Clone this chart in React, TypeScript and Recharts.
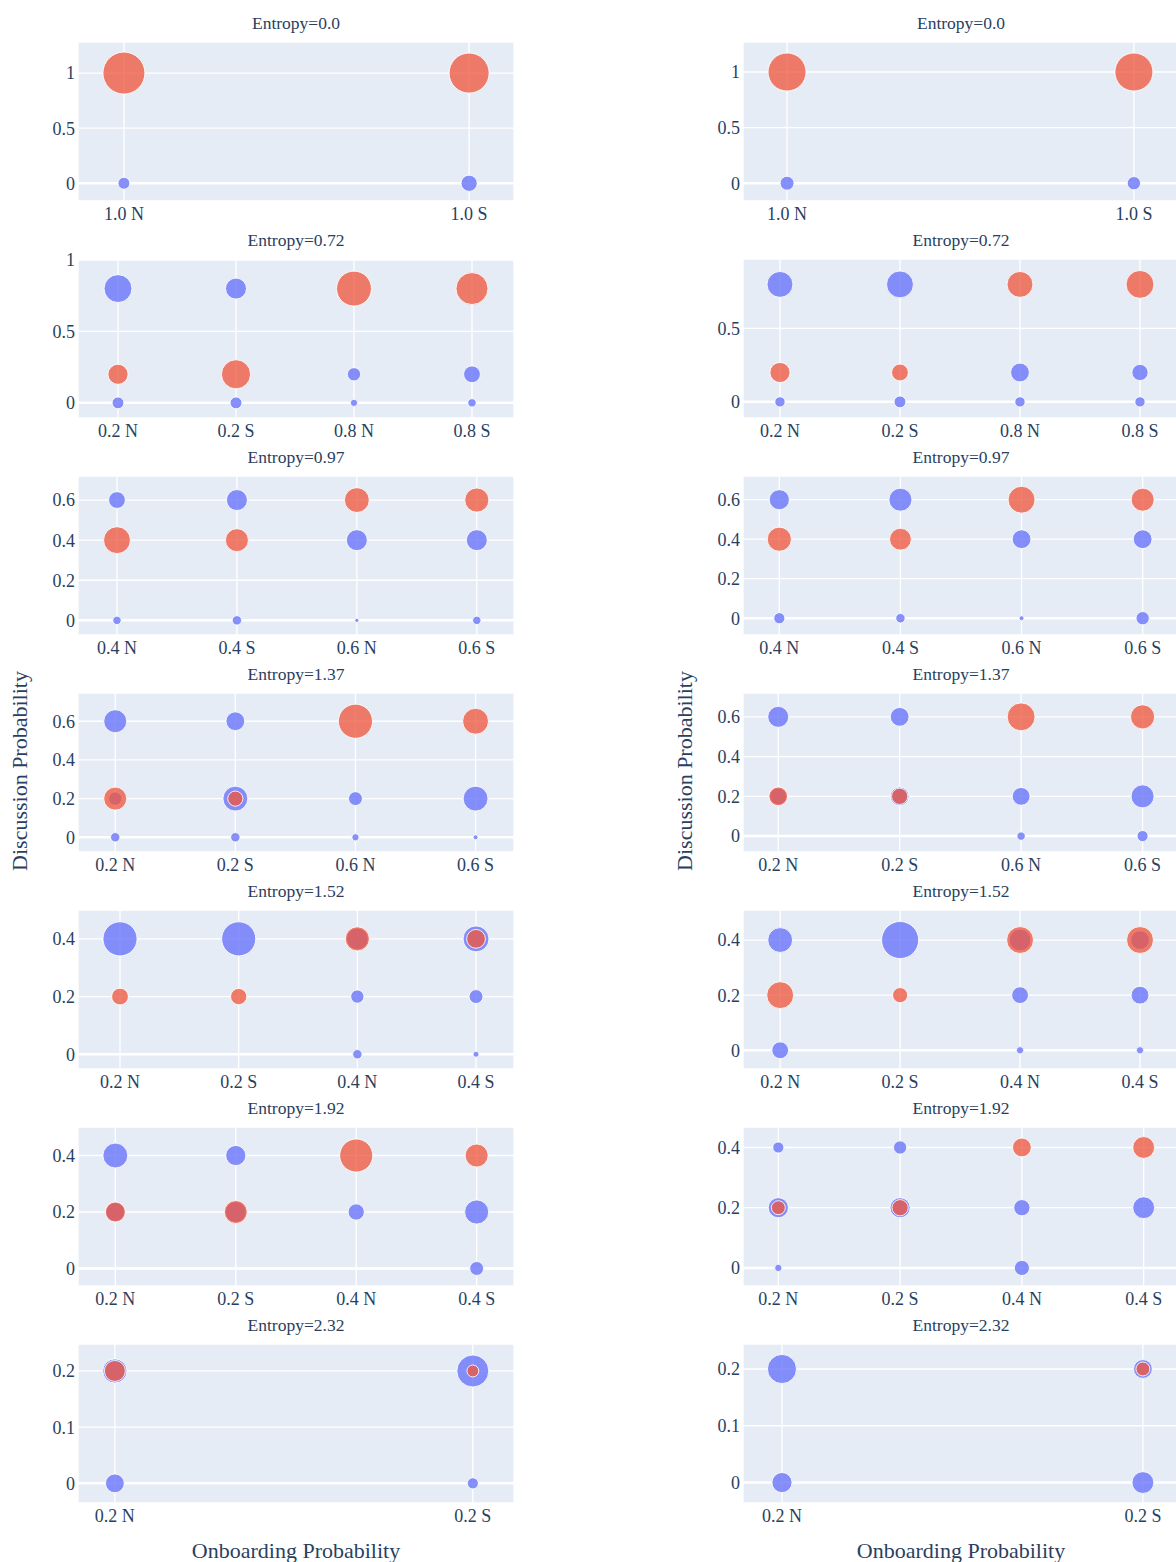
import {
  ScatterChart,
  Scatter,
  XAxis,
  YAxis,
  ZAxis,
  CartesianGrid,
  ReferenceLine,
} from "recharts";

// point = [onboarding category, discussion probability, bubble size]
type Pt = [string, number, number];

const ENTROPIES = ["0.0", "0.72", "0.97", "1.37", "1.52", "1.92", "2.32"];

const CATS_R1 = ["1.0 N", "1.0 S"];
const CATS_R2 = ["0.2 N", "0.2 S", "0.8 N", "0.8 S"];
const CATS_R3 = ["0.4 N", "0.4 S", "0.6 N", "0.6 S"];
const CATS_R4 = ["0.2 N", "0.2 S", "0.6 N", "0.6 S"];
const CATS_R5 = ["0.2 N", "0.2 S", "0.4 N", "0.4 S"];
const CATS_R6 = ["0.2 N", "0.2 S", "0.4 N", "0.4 S"];
const CATS_R7 = ["0.2 N", "0.2 S"];

const TICKS_1 = [0, 0.5, 1];
const TICKS_05 = [0, 0.5];
const TICKS_06 = [0, 0.2, 0.4, 0.6];
const TICKS_04 = [0, 0.2, 0.4];
const TICKS_02 = [0, 0.1, 0.2];

// left column
const BLUE_L1: Pt[] = [["1.0 N", 0, 8], ["1.0 S", 0, 15]];
const RED_L1: Pt[] = [["1.0 N", 1, 100], ["1.0 S", 1, 91]];
const BLUE_L2: Pt[] = [
  ["0.2 N", 0.8, 44], ["0.2 N", 0, 8], ["0.2 S", 0.8, 25], ["0.2 S", 0, 8],
  ["0.8 N", 0.2, 10], ["0.8 N", 0, 3], ["0.8 S", 0.2, 16], ["0.8 S", 0, 4],
];
const RED_L2: Pt[] = [["0.2 N", 0.2, 23], ["0.2 S", 0.2, 48], ["0.8 N", 0.8, 69], ["0.8 S", 0.8, 58]];
const BLUE_L3: Pt[] = [
  ["0.4 N", 0.6, 16], ["0.4 N", 0, 4], ["0.4 S", 0.6, 25], ["0.4 S", 0, 5],
  ["0.6 N", 0.4, 25], ["0.6 N", 0, 1], ["0.6 S", 0.4, 25], ["0.6 S", 0, 4],
];
const RED_L3: Pt[] = [["0.4 N", 0.4, 41], ["0.4 S", 0.4, 30], ["0.6 N", 0.6, 35], ["0.6 S", 0.6, 33]];
const BLUE_L4: Pt[] = [
  ["0.2 N", 0.6, 30], ["0.2 N", 0.2, 10], ["0.2 N", 0, 5],
  ["0.2 S", 0.6, 20], ["0.2 S", 0.2, 35], ["0.2 S", 0, 5],
  ["0.6 N", 0.2, 11], ["0.6 N", 0, 3], ["0.6 S", 0.2, 35], ["0.6 S", 0, 1.4],
];
const RED_L4: Pt[] = [["0.2 N", 0.2, 30], ["0.2 S", 0.2, 13], ["0.6 N", 0.6, 66], ["0.6 S", 0.6, 38]];
const BLUE_L5: Pt[] = [
  ["0.2 N", 0.4, 66], ["0.2 S", 0.4, 66],
  ["0.4 N", 0.4, 27], ["0.4 N", 0.2, 10], ["0.4 N", 0, 5],
  ["0.4 S", 0.4, 38], ["0.4 S", 0.2, 11], ["0.4 S", 0, 2],
];
const RED_L5: Pt[] = [["0.2 N", 0.2, 16], ["0.2 S", 0.2, 15], ["0.4 N", 0.4, 33], ["0.4 S", 0.4, 20]];
const BLUE_L6: Pt[] = [
  ["0.2 N", 0.4, 35], ["0.2 N", 0.2, 20], ["0.2 S", 0.4, 23], ["0.2 S", 0.2, 25],
  ["0.4 N", 0.2, 15], ["0.4 S", 0.2, 33], ["0.4 S", 0, 11],
];
const RED_L6: Pt[] = [["0.2 N", 0.2, 23], ["0.2 S", 0.2, 30], ["0.4 N", 0.4, 62], ["0.4 S", 0.4, 30]];
const BLUE_L7: Pt[] = [["0.2 N", 0.2, 33], ["0.2 N", 0, 20], ["0.2 S", 0.2, 58], ["0.2 S", 0, 7]];
const RED_L7: Pt[] = [["0.2 N", 0.2, 25], ["0.2 S", 0.2, 8]];

// right column
const BLUE_R1: Pt[] = [["1.0 N", 0, 11], ["1.0 S", 0, 10]];
const RED_R1: Pt[] = [["1.0 N", 1, 82], ["1.0 S", 1, 82]];
const BLUE_R2: Pt[] = [
  ["0.2 N", 0.8, 38], ["0.2 N", 0, 6], ["0.2 S", 0.8, 41], ["0.2 S", 0, 8],
  ["0.8 N", 0.2, 20], ["0.8 N", 0, 6], ["0.8 S", 0.2, 15], ["0.8 S", 0, 6],
];
const RED_R2: Pt[] = [["0.2 N", 0.2, 23], ["0.2 S", 0.2, 16], ["0.8 N", 0.8, 38], ["0.8 S", 0.8, 44]];
const BLUE_R3: Pt[] = [
  ["0.4 N", 0.6, 23], ["0.4 N", 0, 7], ["0.4 S", 0.6, 30], ["0.4 S", 0, 5],
  ["0.6 N", 0.4, 20], ["0.6 N", 0, 1.4], ["0.6 S", 0.4, 20], ["0.6 S", 0, 10],
];
const RED_R3: Pt[] = [["0.4 N", 0.4, 33], ["0.4 S", 0.4, 27], ["0.6 N", 0.6, 41], ["0.6 S", 0.6, 30]];
const BLUE_R4: Pt[] = [
  ["0.2 N", 0.6, 25], ["0.2 N", 0.2, 16], ["0.2 S", 0.6, 20], ["0.2 S", 0.2, 20],
  ["0.6 N", 0.2, 18], ["0.6 N", 0, 4], ["0.6 S", 0.2, 30], ["0.6 S", 0, 7],
];
const RED_R4: Pt[] = [["0.2 N", 0.2, 20], ["0.2 S", 0.2, 15], ["0.6 N", 0.6, 44], ["0.6 S", 0.6, 33]];
const BLUE_R5: Pt[] = [
  ["0.2 N", 0.4, 35], ["0.2 N", 0, 16], ["0.2 S", 0.4, 78],
  ["0.4 N", 0.4, 27], ["0.4 N", 0.2, 16], ["0.4 N", 0, 3],
  ["0.4 S", 0.4, 20], ["0.4 S", 0.2, 18], ["0.4 S", 0, 3],
];
const RED_R5: Pt[] = [["0.2 N", 0.2, 41], ["0.2 S", 0.2, 13], ["0.4 N", 0.4, 41], ["0.4 S", 0.4, 41]];
const BLUE_R6: Pt[] = [
  ["0.2 N", 0.4, 7], ["0.2 N", 0.2, 23], ["0.2 N", 0, 3],
  ["0.2 S", 0.4, 10], ["0.2 S", 0.2, 23],
  ["0.4 N", 0.2, 15], ["0.4 N", 0, 13], ["0.4 S", 0.2, 27],
];
const RED_R6: Pt[] = [["0.2 N", 0.2, 11], ["0.2 S", 0.2, 15], ["0.4 N", 0.4, 20], ["0.4 S", 0.4, 27]];
const BLUE_R7: Pt[] = [["0.2 N", 0.2, 48], ["0.2 N", 0, 23], ["0.2 S", 0.2, 20], ["0.2 S", 0, 27]];
const RED_R7: Pt[] = [["0.2 S", 0.2, 11]];

const BLUE = "#636efa";
const RED = "#EF553B";
const INK = "#2a3f5f";
const PLOT_BG = "#E5ECF6";

const PW = 436; // plot width
const PH = 159; // plot height
const YW = 60;
const XH = 30;
const TOP_PAD = 12;
const ROW_TOP = 42;
const ROW_STEP = 217;
const LEFT_X = 78;
const RIGHT_X = 743;
const AREA_MAX = Math.PI * 21 * 21;

const left = [
  { cats: CATS_R1, blue: BLUE_L1, red: RED_L1, yTicks: TICKS_1, xDom: [-0.133, 1.13], yDom: [-0.161, 1.282] },
  { cats: CATS_R2, blue: BLUE_L2, red: RED_L2, yTicks: TICKS_1, xDom: [-0.339, 3.356], yDom: [-0.106, 1.007] },
  { cats: CATS_R3, blue: BLUE_L3, red: RED_L3, yTicks: TICKS_06, xDom: [-0.325, 3.31], yDom: [-0.073, 0.72] },
  { cats: CATS_R4, blue: BLUE_L4, red: RED_L4, yTicks: TICKS_06, xDom: [-0.31, 3.32], yDom: [-0.076, 0.746] },
  { cats: CATS_R5, blue: BLUE_L5, red: RED_L5, yTicks: TICKS_04, xDom: [-0.354, 3.32], yDom: [-0.051, 0.5] },
  { cats: CATS_R6, blue: BLUE_L6, red: RED_L6, yTicks: TICKS_04, xDom: [-0.31, 3.31], yDom: [-0.062, 0.501] },
  { cats: CATS_R7, blue: BLUE_L7, red: RED_L7, yTicks: TICKS_02, xDom: [-0.103, 1.115], yDom: [-0.035, 0.248] },
];

const right = [
  { cats: CATS_R1, blue: BLUE_R1, red: RED_R1, yTicks: TICKS_1, xDom: [-0.127, 1.13], yDom: [-0.16, 1.27] },
  { cats: CATS_R2, blue: BLUE_R2, red: RED_R2, yTicks: TICKS_05, xDom: [-0.308, 3.325], yDom: [-0.11, 0.973] },
  { cats: CATS_R3, blue: BLUE_R3, red: RED_R3, yTicks: TICKS_06, xDom: [-0.3, 3.3], yDom: [-0.085, 0.72] },
  { cats: CATS_R4, blue: BLUE_R4, red: RED_R4, yTicks: TICKS_06, xDom: [-0.29, 3.3], yDom: [-0.08, 0.72] },
  { cats: CATS_R5, blue: BLUE_R5, red: RED_R5, yTicks: TICKS_04, xDom: [-0.31, 3.325], yDom: [-0.068, 0.509] },
  { cats: CATS_R6, blue: BLUE_R6, red: RED_R6, yTicks: TICKS_04, xDom: [-0.29, 3.29], yDom: [-0.06, 0.468] },
  { cats: CATS_R7, blue: BLUE_R7, red: RED_R7, yTicks: TICKS_02, xDom: [-0.108, 1.1], yDom: [-0.036, 0.244] },
];

function Panel({ cfg, x, top, title }: any) {
  const { cats, blue, red, yTicks, xDom, yDom } = cfg;
  const toPts = (arr: Pt[]) => arr.map(([c, y, s]) => ({ x: cats.indexOf(c), y, size: s }));
  const tick = { fill: INK, fontSize: 18 };
  return (
    <>
      <div
        style={{
          position: "absolute",
          left: x,
          top: top - 29,
          width: PW,
          height: 20,
          lineHeight: "20px",
          textAlign: "center",
          fontSize: 17.5,
          color: INK,
        }}
      >
        Entropy={title}
      </div>
      <div style={{ position: "absolute", left: x - YW, top: top - TOP_PAD }}>
        <ScatterChart
          width={YW + PW}
          height={PH + XH + TOP_PAD}
          margin={{ top: TOP_PAD, right: 0, bottom: 0, left: 0 }}
        >
          <CartesianGrid fill={PLOT_BG} stroke="#fff" strokeWidth={1.3} />
          <XAxis
            type="number"
            dataKey="x"
            domain={xDom}
            ticks={cats.map((_: string, i: number) => i)}
            tickFormatter={(v: number) => cats[v]}
            allowDataOverflow
            interval={0}
            axisLine={false}
            tickLine={false}
            tickSize={0}
            tickMargin={6}
            height={XH}
            tick={tick}
          />
          <YAxis
            type="number"
            dataKey="y"
            domain={yDom}
            ticks={yTicks}
            allowDataOverflow
            interval={0}
            axisLine={false}
            tickLine={false}
            tickSize={0}
            tickMargin={3}
            width={YW}
            tick={tick}
          />
          <ZAxis type="number" dataKey="size" domain={[0, 100]} range={[0, AREA_MAX]} />
          <ReferenceLine y={0} stroke="#fff" strokeWidth={2.5} />
          <Scatter
            data={toPts(blue)}
            fill={BLUE}
            fillOpacity={0.76}
            stroke="#fff"
            strokeWidth={1}
            strokeOpacity={0.85}
            isAnimationActive={false}
          />
          <Scatter
            data={toPts(red)}
            fill={RED}
            fillOpacity={0.76}
            stroke="#fff"
            strokeWidth={1}
            strokeOpacity={0.85}
            isAnimationActive={false}
          />
        </ScatterChart>
      </div>
    </>
  );
}

const axisTitle = {
  position: "absolute" as const,
  fontSize: 22,
  color: INK,
  whiteSpace: "nowrap" as const,
};

export default function App() {
  return (
    <div
      style={{
        position: "relative",
        width: 1176,
        height: 1562,
        overflow: "hidden",
        background: "#fff",
        fontFamily: '"Liberation Serif", "Times New Roman", serif',
      }}
    >
      <style>{"body{margin:0}"}</style>
      {left.map((cfg, i) => (
        <Panel key={"l" + i} cfg={cfg} x={LEFT_X} top={ROW_TOP + ROW_STEP * i} title={ENTROPIES[i]} />
      ))}
      {right.map((cfg, i) => (
        <Panel key={"r" + i} cfg={cfg} x={RIGHT_X} top={ROW_TOP + ROW_STEP * i} title={ENTROPIES[i]} />
      ))}
      <div style={{ ...axisTitle, left: 20, top: 771, transform: "translate(-50%, -50%) rotate(-90deg)" }}>
        Discussion Probability
      </div>
      <div style={{ ...axisTitle, left: 685, top: 771, transform: "translate(-50%, -50%) rotate(-90deg)" }}>
        Discussion Probability
      </div>
      <div style={{ ...axisTitle, left: LEFT_X + PW / 2, top: 1551, transform: "translate(-50%, -50%)" }}>
        Onboarding Probability
      </div>
      <div style={{ ...axisTitle, left: RIGHT_X + PW / 2, top: 1551, transform: "translate(-50%, -50%)" }}>
        Onboarding Probability
      </div>
    </div>
  );
}
